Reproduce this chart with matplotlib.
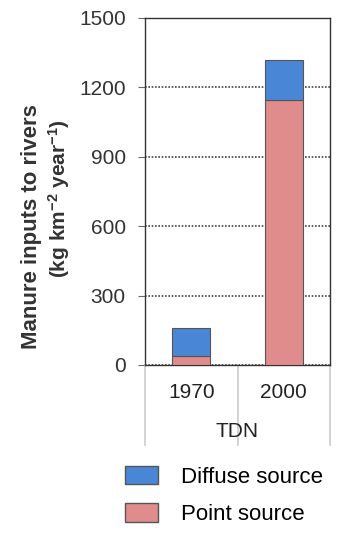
import matplotlib.pyplot as plt
from matplotlib.patches import Patch

plt.rcParams['font.family'] = ['Liberation Sans', 'DejaVu Sans']

years = ['1970', '2000']
group = 'TDN'
point_source = [40, 1145]
diffuse_source = [120, 175]
yticks = [0, 300, 600, 900, 1200, 1500]

blue = '#4a86d6'
pink = '#e08c8c'
edge = '#555555'

W, H = 343, 538
fig = plt.figure(figsize=(W / 100, H / 100), dpi=100)
ax = fig.add_axes([0.423, 0.3216, 0.539, 0.645])

x = range(len(years))
ax.bar(x, point_source, width=0.41, color=pink, edgecolor=edge, linewidth=0.8, zorder=3)
ax.bar(x, diffuse_source, width=0.41, bottom=point_source, color=blue,
       edgecolor=edge, linewidth=0.8, zorder=3)

ax.set_xlim(-0.5, 1.5)
ax.set_ylim(0, 1500)
ax.set_yticks(yticks)
ax.set_yticklabels([str(v) for v in yticks], fontsize=15, color='#333333')
ax.set_xticks([])
ax.tick_params(axis='y', length=5, pad=9, color='#666666')
ax.yaxis.grid(True, linestyle=(0, (1, 1)), color='#444444', linewidth=1.2, zorder=1)
for s in ax.spines.values():
    s.set_color('#333333')
    s.set_linewidth(1.0)

# two-line y label, placed line by line
fig.text(32 / W, 1 - 227 / H, 'Manure inputs to rivers', rotation=90, ha='center',
         va='center', fontsize=16, fontweight='bold', color='#333333')
fig.text(59 / W, 1 - 199 / H, r'(kg km$\mathregular{^{-2}}$ year$\mathregular{^{-1}}$)',
         rotation=90, ha='center', va='center', fontsize=15, fontweight='bold',
         color='#333333')

# category table under the axis
for xv in (0, 0.5, 1):
    ax.plot([xv, xv], [0, -0.23], transform=ax.transAxes, clip_on=False,
            color='#cccccc', linewidth=1.2)
for i, yr in enumerate(years):
    ax.text(i, -0.078, yr, transform=ax.get_xaxis_transform(), ha='center',
            va='center', fontsize=15, color='#222222')
ax.text(0.5, -0.193, group, transform=ax.transAxes, ha='center', va='center',
        fontsize=15, color='#222222')

handles = [Patch(facecolor=blue, edgecolor=edge, label='Diffuse source'),
           Patch(facecolor=pink, edgecolor=edge, label='Point source')]
fig.legend(handles=handles, loc='upper left', bbox_to_anchor=(125 / W, 1 - 466 / H),
           frameon=False, fontsize=16, handlelength=1.5, handleheight=0.9,
           handletextpad=1.0, labelspacing=0.7, borderpad=0, borderaxespad=0)

fig.savefig('out.png', dpi=100, facecolor='white')
